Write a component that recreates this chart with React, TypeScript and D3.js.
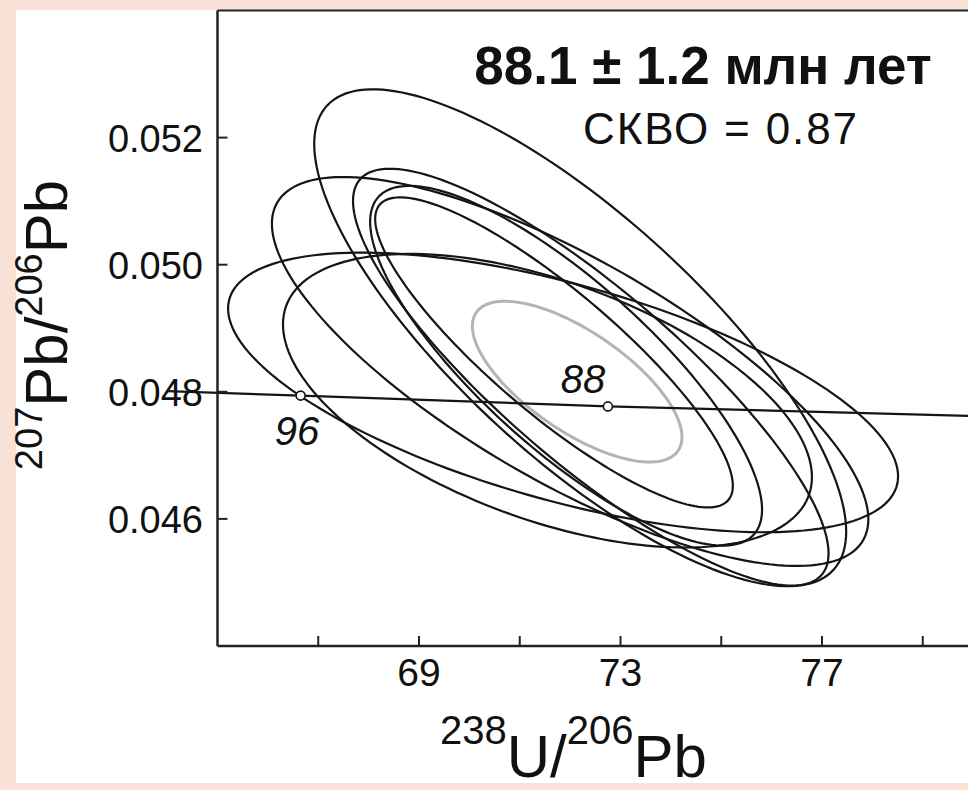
import React from "react";
import * as d3 from "d3";

const WIDTH = 968;
const HEIGHT = 790;

// axis ticks
const xTicks = [67, 69, 71, 73, 75, 77, 79];
const xTickLabels = [69, 73, 77];
const yTicks = [0.046, 0.048, 0.05, 0.052];

// analyses: centre, half-extent in x and y, error correlation
const ellX = [72.2, 72.0, 72.41, 71.92, 71.68, 71.86, 71.55];
const ellSx = [5.28, 5.92, 4.72, 3.89, 3.55, 6.65, 5.25];
const ellY = [0.04885, 0.04832, 0.04823, 0.04841, 0.04862, 0.04799, 0.04786];
const ellSy = [0.00391, 0.00306, 0.00328, 0.00283, 0.00244, 0.0022, 0.00231];
const ellRho = [-0.78, -0.76, -0.845, -0.8, -0.86, -0.6, -0.52];

// weighted mean (concordia age) ellipse
const meanEll = { x: 72.14, sx: 2.08, y: 0.04816, sy: 0.001265, rho: -0.69 };

// concordia curve and age marks
const concordiaX = [64, 66.65, 72.75, 81];
const concordiaY = [0.04801, 0.04794, 0.04777, 0.0476];
const ageMarks = [96, 88];
const ageX = [66.65, 72.75];
const ageY = [0.04794, 0.04777];

const FONT = "'Liberation Sans', Arial, sans-serif";

export default function App() {
  const xScale = d3.scaleLinear().domain([65, 81]).range([217.5, 1023.5]);
  const yScale = d3.scaleLinear().domain([0.044, 0.054]).range([646, 10.5]);

  const ellipsePath = (cx: number, sx: number, cy: number, sy: number, rho: number) => {
    const k = Math.sqrt(1 - rho * rho);
    const pts = d3.range(0, 360, 2).map((deg) => {
      const t = (deg * Math.PI) / 180;
      return [
        xScale(cx + sx * Math.cos(t)),
        yScale(cy + sy * (rho * Math.cos(t) + k * Math.sin(t))),
      ] as [number, number];
    });
    return d3.line().curve(d3.curveLinearClosed)(pts) || "";
  };

  const concordia = d3
    .line<number>()
    .x((_, i) => xScale(concordiaX[i]))
    .y((_, i) => yScale(concordiaY[i]))(concordiaX) || "";

  const x0 = xScale(65);
  const yTop = yScale(0.054);
  const yBot = yScale(0.044);

  return (
    <div style={{ position: "absolute", left: 0, top: 0 }}>
      <svg width={WIDTH} height={HEIGHT} style={{ display: "block" }}>
        <rect x={0} y={0} width={WIDTH} height={HEIGHT} fill="#f9e2d5" />
        <rect x={16} y={10} width={WIDTH - 16} height={773} fill="#ffffff" />

        {/* ellipses */}
        {ellX.map((cx, i) => (
          <path
            key={i}
            d={ellipsePath(cx, ellSx[i], ellY[i], ellSy[i], ellRho[i])}
            fill="none"
            stroke="#151515"
            strokeWidth={2.2}
          />
        ))}
        <path
          d={ellipsePath(meanEll.x, meanEll.sx, meanEll.y, meanEll.sy, meanEll.rho)}
          fill="none"
          stroke="#b4b4b4"
          strokeWidth={3}
        />

        {/* concordia */}
        <path d={concordia} fill="none" stroke="#151515" strokeWidth={2.2} />
        {ageMarks.map((a, i) => (
          <circle
            key={a}
            cx={xScale(ageX[i])}
            cy={yScale(ageY[i])}
            r={4.5}
            fill="#fff"
            stroke="#151515"
            strokeWidth={1.6}
          />
        ))}
        <text x={297} y={445} textAnchor="middle" fontFamily={FONT} fontStyle="italic" fontSize={40} fill="#111">
          96
        </text>
        <text x={583} y={393} textAnchor="middle" fontFamily={FONT} fontStyle="italic" fontSize={40} fill="#111">
          88
        </text>

        {/* frame */}
        <line x1={x0} x2={WIDTH} y1={yTop} y2={yTop} stroke="#222" strokeWidth={2} />
        <line x1={x0} x2={WIDTH} y1={yBot} y2={yBot} stroke="#222" strokeWidth={2.5} />
        <line x1={x0} x2={x0} y1={yTop} y2={yBot} stroke="#222" strokeWidth={2.5} />

        {/* x ticks */}
        {xTicks.map((t) => (
          <line key={t} x1={xScale(t)} x2={xScale(t)} y1={yBot} y2={yBot - 10} stroke="#222" strokeWidth={2} />
        ))}
        {xTickLabels.map((t) => (
          <text key={t} x={xScale(t)} y={686} textAnchor="middle" fontFamily={FONT} fontSize={39} fill="#111">
            {t}
          </text>
        ))}

        {/* y ticks */}
        {yTicks.map((t) => (
          <g key={t}>
            <line x1={x0} x2={x0 + 10} y1={yScale(t)} y2={yScale(t)} stroke="#222" strokeWidth={2} />
            <text x={203} y={yScale(t) + 14} textAnchor="end" fontFamily={FONT} fontSize={38} fill="#111">
              {d3.format(".3f")(t)}
            </text>
          </g>
        ))}

        {/* titles */}
        <text x={703} y={84} textAnchor="middle" fontFamily={FONT} fontWeight="bold" fontSize={53} fill="#111">
          88.1 ± 1.2 млн лет
        </text>
        <text x={583} y={144} fontFamily={FONT} fontSize={44} fill="#111" textLength={274} lengthAdjust="spacing">
          СКВО = 0.87
        </text>

        {/* axis labels */}
        <text x={440} y={777} fontFamily={FONT} fontSize={60} fill="#111">
          <tspan fontSize={40} dy={-33}>238</tspan>
          <tspan dy={33}>U/</tspan>
          <tspan fontSize={40} dy={-33}>206</tspan>
          <tspan dy={33}>Pb</tspan>
        </text>
        <text
          transform="translate(67,325) rotate(-90)"
          textAnchor="middle"
          fontFamily={FONT}
          fontSize={60}
          fill="#111"
        >
          <tspan fontSize={38} dy={-25}>207</tspan>
          <tspan dy={25}>Pb/</tspan>
          <tspan fontSize={38} dy={-25}>206</tspan>
          <tspan dy={25}>Pb</tspan>
        </text>
      </svg>
    </div>
  );
}
